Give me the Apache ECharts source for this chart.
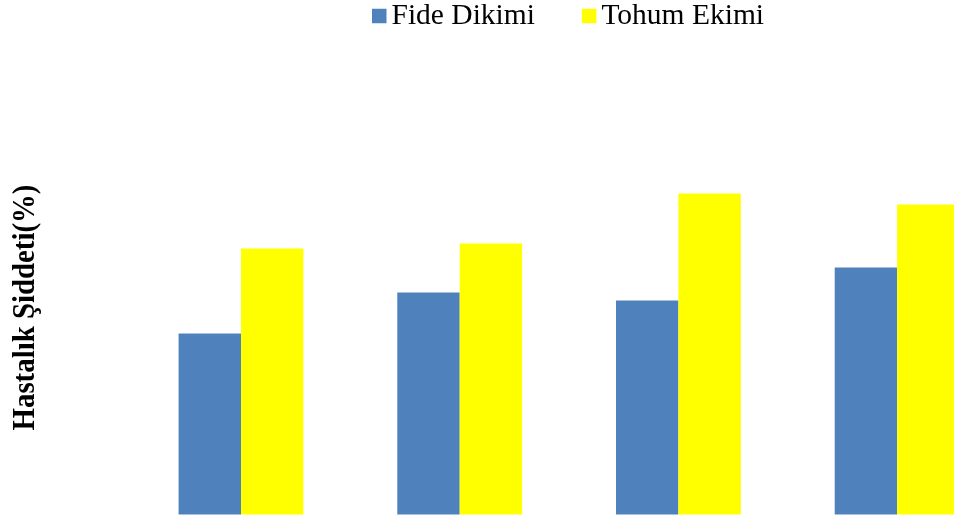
<!DOCTYPE html>
<html>
<head>
<meta charset="utf-8">
<style>
  html, body { margin: 0; padding: 0; background: #ffffff; }
  #chart { width: 954px; height: 522px; }
</style>
<script src="https://cdn.jsdelivr.net/npm/echarts@6/dist/echarts.min.js"></script>
</head>
<body>
<div id="chart"></div>
<script>
// Disease severity (%) by planting method, four groups
const categories = ['1', '2', '3', '4'];
const seriesNames = ['Fide Dikimi', 'Tohum Ekimi'];
const fideDikimi = [18.1, 22.2, 21.4, 24.7];
const tohumEkimi = [26.6, 27.1, 32.1, 31.0];
const yAxisTitle = 'Hastalık Şiddeti(%)';

const chart = echarts.init(document.getElementById('chart'), null, { renderer: 'canvas' });

chart.setOption({
  animation: false,
  backgroundColor: '#ffffff',
  textStyle: { fontFamily: '"Liberation Serif", "DejaVu Serif", serif' },
  legend: {
    left: 372,
    top: 1,
    padding: 0,
    icon: 'rect',
    itemWidth: 14.5,
    itemHeight: 14.5,
    itemGap: 47,
    textStyle: {
      fontFamily: '"Liberation Serif", serif',
      fontSize: 29.5,
      color: '#000000',
      lineHeight: 26
    },
    data: seriesNames
  },
  // the plot area runs past the right edge, so the last group is clipped
  grid: {
    left: 131.65,
    right: -52.45,
    top: 14.5,
    bottom: 7.5,
    outerBoundsMode: 'none',
    containLabel: false
  },
  xAxis: {
    type: 'category',
    data: categories,
    axisLine: { show: false },
    axisTick: { show: false },
    axisLabel: { show: false },
    splitLine: { show: false }
  },
  yAxis: {
    type: 'value',
    min: 0,
    max: 50,
    show: false
  },
  graphic: [{
    type: 'text',
    x: 26,
    y: 307.5,
    rotation: Math.PI / 2,
    scaleX: 0.93,
    style: {
      text: yAxisTitle,
      fontFamily: '"Liberation Serif", serif',
      fontWeight: 'bold',
      fontSize: 31,
      fill: '#000000',
      align: 'center',
      verticalAlign: 'middle'
    }
  }],
  series: [
    {
      name: seriesNames[0],
      type: 'bar',
      data: fideDikimi,
      barWidth: 62.4,
      barGap: '0%',
      itemStyle: { color: '#4F81BD' }
    },
    {
      name: seriesNames[1],
      type: 'bar',
      data: tohumEkimi,
      barWidth: 62.4,
      barGap: '0%',
      itemStyle: { color: '#FFFF00' }
    }
  ]
});
</script>
</body>
</html>
